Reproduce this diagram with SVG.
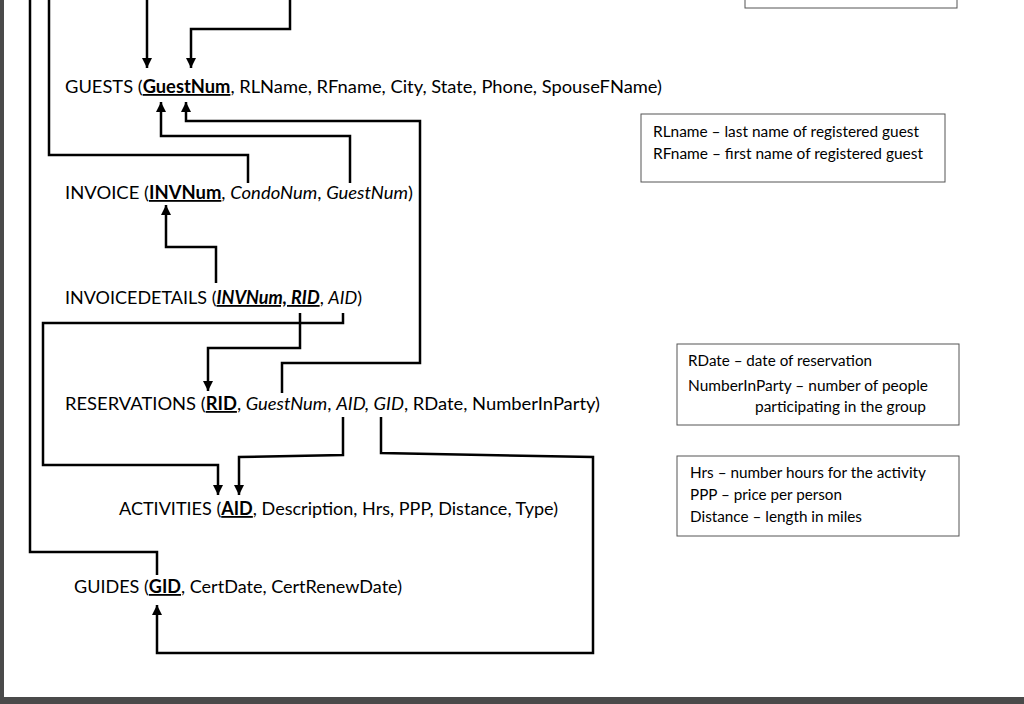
<svg xmlns="http://www.w3.org/2000/svg" width="1024" height="704" viewBox="0 0 1024 704">
<style>
.t{font-family:Lato,"Open Sans",sans-serif;font-size:18px;fill:#000}
.n{font-family:Lato,"Open Sans",sans-serif;font-size:14.5px;fill:#000}
.k{font-weight:bold;text-decoration:underline}
.i{font-style:italic}
.c{fill:none;stroke:#000;stroke-width:2.5}
.b{fill:#fff;stroke:#555;stroke-width:1}
</style>
<defs>
<marker id="a" viewBox="0 0 10 10" refX="10" refY="5" markerWidth="4" markerHeight="5" orient="auto" markerUnits="strokeWidth"><path d="M0,0L10,5L0,10z" fill="#000"/></marker>
</defs>
<rect width="1024" height="704" fill="#fff"/>
<rect x="0" y="0" width="4" height="704" fill="#4a4a4a"/>
<rect x="0" y="697" width="1024" height="7" fill="#4a4a4a"/>
<g id="connectors">
<path class="c" d="M30,0V552H157V575"/>
<path class="c" d="M49,0V155H248V183"/>
<path class="c" d="M147,0V68" marker-end="url(#a)"/>
<path class="c" d="M290,0V29H191V68" marker-end="url(#a)"/>
<path class="c" d="M350,183V136H161V102" marker-end="url(#a)"/>
<path class="c" d="M282,393V363H420V121H186V102" marker-end="url(#a)"/>
<path class="c" d="M216,283V247H166V205" marker-end="url(#a)"/>
<path class="c" d="M300,313V348H208V391" marker-end="url(#a)"/>
<path class="c" d="M343,313V323H43V465H218V495" marker-end="url(#a)"/>
<path class="c" d="M343,417V455L239,457V495" marker-end="url(#a)"/>
<path class="c" d="M381,417V453L593,457V653H157V605" marker-end="url(#a)"/>
</g>
<g id="guests"><text class="t" x="65" y="93" textLength="597" lengthAdjust="spacingAndGlyphs">GUESTS (<tspan class="k">GuestNum</tspan>, RLName, RFname, City, State, Phone, SpouseFName)</text></g>
<g id="invoice"><text class="t" x="65" y="199" textLength="348" lengthAdjust="spacingAndGlyphs">INVOICE (<tspan class="k">INVNum</tspan>, <tspan class="i">CondoNum</tspan>, <tspan class="i">GuestNum</tspan>)</text></g>
<g id="invoicedetails"><text class="t" x="65" y="304" textLength="297" lengthAdjust="spacingAndGlyphs">INVOICEDETAILS (<tspan class="k i">INVNum, RID</tspan>, <tspan class="i">AID</tspan>)</text></g>
<g id="reservations"><text class="t" x="65" y="410" textLength="535" lengthAdjust="spacingAndGlyphs">RESERVATIONS (<tspan class="k">RID</tspan>, <tspan class="i">GuestNum</tspan>, <tspan class="i">AID, GID</tspan>, RDate, NumberInParty)</text></g>
<g id="activities"><text class="t" x="119" y="515" textLength="439" lengthAdjust="spacingAndGlyphs">ACTIVITIES (<tspan class="k">AID</tspan>, Description, Hrs, PPP, Distance, Type)</text></g>
<g id="guides"><text class="t" x="74" y="593" textLength="328" lengthAdjust="spacingAndGlyphs">GUIDES (<tspan class="k">GID</tspan>, CertDate, CertRenewDate)</text></g>
<g id="note0"><rect class="b" x="745" y="-2" width="212" height="10"/></g>
<g id="note1"><rect class="b" x="641" y="114" width="304" height="68"/>
<text class="n" x="653" y="137" textLength="266" lengthAdjust="spacingAndGlyphs">RLname – last name of registered guest</text>
<text class="n" x="653" y="159" textLength="270" lengthAdjust="spacingAndGlyphs">RFname – first name of registered guest</text></g>
<g id="note2"><rect class="b" x="677" y="344" width="282" height="81"/>
<text class="n" x="688" y="366" textLength="184" lengthAdjust="spacingAndGlyphs">RDate – date of reservation</text>
<text class="n" x="688" y="391" textLength="240" lengthAdjust="spacingAndGlyphs">NumberInParty – number of people</text>
<text class="n" x="755" y="412" textLength="171" lengthAdjust="spacingAndGlyphs">participating in the group</text></g>
<g id="note3"><rect class="b" x="677" y="456" width="282" height="80"/>
<text class="n" x="690" y="478" textLength="236" lengthAdjust="spacingAndGlyphs">Hrs – number hours for the activity</text>
<text class="n" x="690" y="500" textLength="152" lengthAdjust="spacingAndGlyphs">PPP – price per person</text>
<text class="n" x="690" y="522" textLength="172" lengthAdjust="spacingAndGlyphs">Distance – length in miles</text></g>
</svg>
